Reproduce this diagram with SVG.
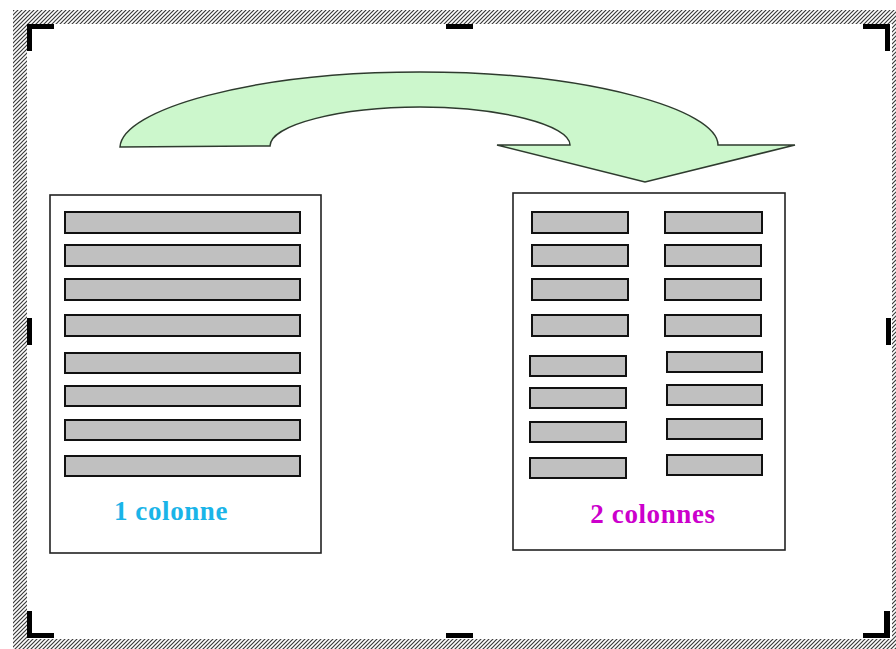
<svg xmlns="http://www.w3.org/2000/svg" width="896" height="649" viewBox="0 0 896 649">
  <defs>
    <pattern id="hatch" patternUnits="userSpaceOnUse" width="4" height="4">
      <path d="M-1,1 L1,-1 M0,4 L4,0 M3,5 L5,3" stroke="#3a3a3a" stroke-width="1.2"/>
    </pattern>
  </defs>
  <style>
    .page { fill: #ffffff; stroke: #222222; stroke-width: 1.6; }
    .bar { fill: #c0c0c0; stroke: #111111; stroke-width: 2; }
    .handle { fill: #000000; }
    .arrow { fill: #ccf7cc; stroke: #2e3b2e; stroke-width: 1.5; }
    .label { font-family: "Liberation Serif", "Times New Roman", serif; font-weight: bold; font-size: 27px; letter-spacing: 0.6px; text-anchor: middle; }
  </style>
  <rect width="896" height="649" fill="#ffffff"/>
  <g id="frame">
    <path d="M13,10 H896 V649 H13 Z M27,24 V639 H892 V24 Z" fill="url(#hatch)" fill-rule="evenodd"/>
    <path class="handle" d="M27,24 H54 V29 H32 V51 H27 Z"/>
    <path class="handle" d="M863,24 H890 V51 H885 V29 H863 Z"/>
    <path class="handle" d="M27,611 H32 V633 H54 V638 H27 Z"/>
    <path class="handle" d="M884,611 H890 V638 H863 V633 H884 Z"/>
    <rect class="handle" x="446" y="24" width="27" height="5"/>
    <rect class="handle" x="446" y="633" width="27" height="5"/>
    <rect class="handle" x="27" y="318" width="5" height="27"/>
    <rect class="handle" x="886" y="318" width="5" height="27"/>
  </g>
  <g id="connectors">
    <path class="arrow" d="M120,147 C122,110 250,72 420,72 C590,72 718,110 718,145 L795,145 L645,182 L497,145 L570,145 C570,125 500,107 420,107 C340,107 270,125 270,146 Z"/>
  </g>
  <g id="page-1-colonne">
    <rect class="page" x="50" y="195" width="271" height="358"/>
    <rect class="bar" x="65" y="212" width="235" height="21"/>
    <rect class="bar" x="65" y="245" width="235" height="21"/>
    <rect class="bar" x="65" y="279" width="235" height="21"/>
    <rect class="bar" x="65" y="315" width="235" height="21"/>
    <rect class="bar" x="65" y="353" width="235" height="20"/>
    <rect class="bar" x="65" y="386" width="235" height="20"/>
    <rect class="bar" x="65" y="420" width="235" height="20"/>
    <rect class="bar" x="65" y="456" width="235" height="20"/>
    <text class="label" x="171" y="520" fill="#1ab4e8">1 colonne</text>
  </g>
  <g id="page-2-colonnes">
    <rect class="page" x="513" y="193" width="272" height="357"/>
    <rect class="bar" x="532" y="212" width="96" height="21"/>
    <rect class="bar" x="532" y="245" width="96" height="21"/>
    <rect class="bar" x="532" y="279" width="96" height="21"/>
    <rect class="bar" x="532" y="315" width="96" height="21"/>
    <rect class="bar" x="530" y="356" width="96" height="20"/>
    <rect class="bar" x="530" y="388" width="96" height="20"/>
    <rect class="bar" x="530" y="422" width="96" height="20"/>
    <rect class="bar" x="530" y="458" width="96" height="20"/>
    <rect class="bar" x="665" y="212" width="97" height="21"/>
    <rect class="bar" x="665" y="245" width="96" height="21"/>
    <rect class="bar" x="665" y="279" width="96" height="21"/>
    <rect class="bar" x="665" y="315" width="96" height="21"/>
    <rect class="bar" x="667" y="352" width="95" height="20"/>
    <rect class="bar" x="667" y="385" width="95" height="20"/>
    <rect class="bar" x="667" y="419" width="95" height="20"/>
    <rect class="bar" x="667" y="455" width="95" height="20"/>
    <text class="label" x="653" y="523" fill="#cc00cc">2 colonnes</text>
  </g>
</svg>
